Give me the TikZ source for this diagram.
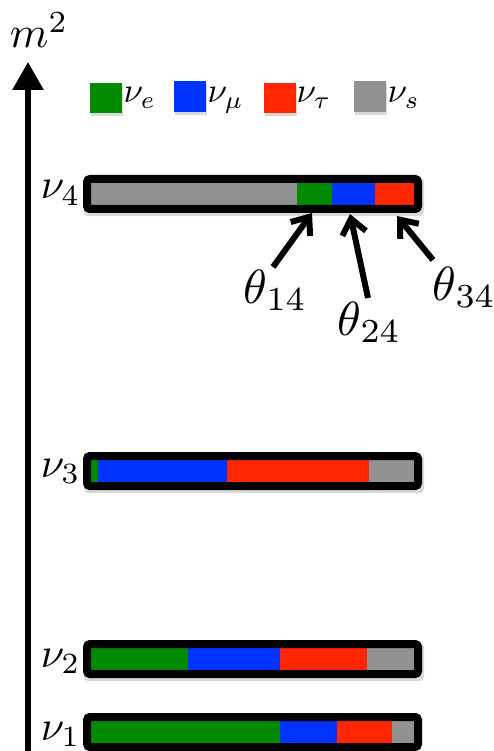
\documentclass[tikz,border=0pt]{standalone}
\usetikzlibrary{arrows.meta}
\definecolor{nue}{RGB}{0,138,0}
\definecolor{num}{RGB}{0,51,255}
\definecolor{nut}{RGB}{255,38,0}
\definecolor{nus}{RGB}{145,145,145}
\begin{document}
\begin{tikzpicture}[x=1pt,y=-1pt,
  barframe/.style={draw=black,line width=8pt,rounded corners=3pt},
  barshadow/.style={fill=black,opacity=0.15,rounded corners=4pt},
  lbl/.style={inner sep=0pt,anchor=base west,scale=4.2},
  thlbl/.style={inner sep=0pt,anchor=base west,scale=4.8},
  leglbl/.style={inner sep=0pt,anchor=base west,scale=3.5},
  pointer/.style={line width=6pt,-{Straight Barb[length=15pt,width=24pt]}}]
\useasboundingbox (0,0) rectangle (493,751);
% axis
\coordinate (ax0) at (28,751);
\coordinate (ax1) at (28,62);
\draw[line width=6pt,-{Triangle[length=28pt,width=30pt]}] (ax0) -- (ax1);
\node[inner sep=0pt,anchor=base west,scale=4.4] (m2) at (9,48) {$m^2$};
% legend
\fill[black,opacity=0.15] (91,86) rectangle (123,116);
\fill[black,opacity=0.15] (175,84) rectangle (207,115);
\fill[black,opacity=0.15] (265,86) rectangle (297,116);
\fill[black,opacity=0.15] (355,84) rectangle (387,115);
\fill[nue] (90,83) rectangle (122,113);
\fill[num] (174,81) rectangle (206,112);
\fill[nut] (264,83) rectangle (296,113);
\fill[nus] (354,81) rectangle (386,112);
\node[leglbl] (le) at (123,103) {$\nu_e$};
\node[leglbl] (lm) at (207,103) {$\nu_\mu$};
\node[leglbl] (lt) at (296,103) {$\nu_\tau$};
\node[leglbl] (ls) at (387,103) {$\nu_s$};
% nu4
\fill[barshadow] (84,178) rectangle (424,216);
\fill[nus] (91,183) rectangle (297,205);
\fill[nue] (297,183) rectangle (332,205);
\fill[num] (332,183) rectangle (375,205);
\fill[nut] (375,183) rectangle (414,205);
\draw[barframe] (87,179) rectangle (418,209);
\node[lbl] (n4) at (40,199) {$\nu_4$};
% nu3
\fill[barshadow] (84,455) rectangle (424,493);
\fill[nue] (91,460) rectangle (98,482);
\fill[num] (98,460) rectangle (227,482);
\fill[nut] (227,460) rectangle (369,482);
\fill[nus] (369,460) rectangle (414,482);
\draw[barframe] (87,456) rectangle (418,486);
\node[lbl] (n3) at (40,477) {$\nu_3$};
% nu2
\fill[barshadow] (84,643) rectangle (424,681);
\fill[nue] (91,648) rectangle (188,670);
\fill[num] (188,648) rectangle (280,670);
\fill[nut] (280,648) rectangle (367,670);
\fill[nus] (367,648) rectangle (414,670);
\draw[barframe] (87,644) rectangle (418,674);
\node[lbl] (n2) at (40,667) {$\nu_2$};
% nu1
\fill[nue] (91,721) rectangle (280,743);
\fill[num] (280,721) rectangle (337,743);
\fill[nut] (337,721) rectangle (392,743);
\fill[nus] (392,721) rectangle (414,743);
\draw[barframe] (87,717) rectangle (418,747);
\node[lbl] (n1) at (40,740) {$\nu_1$};
% mixing angles
\node[thlbl] (th14) at (243,303) {$\theta_{14}$};
\node[thlbl] (th24) at (337,335) {$\theta_{24}$};
\node[thlbl] (th34) at (432,300) {$\theta_{34}$};
\coordinate (s14) at (273,267);
\coordinate (t14) at (312,213);
\coordinate (s24) at (368,298);
\coordinate (t24) at (350,214);
\coordinate (s34) at (433,260);
\coordinate (t34) at (397,216);
\draw[pointer] (s14) -- (t14);
\draw[pointer] (s24) -- (t24);
\draw[pointer] (s34) -- (t34);
\end{tikzpicture}
\end{document}
